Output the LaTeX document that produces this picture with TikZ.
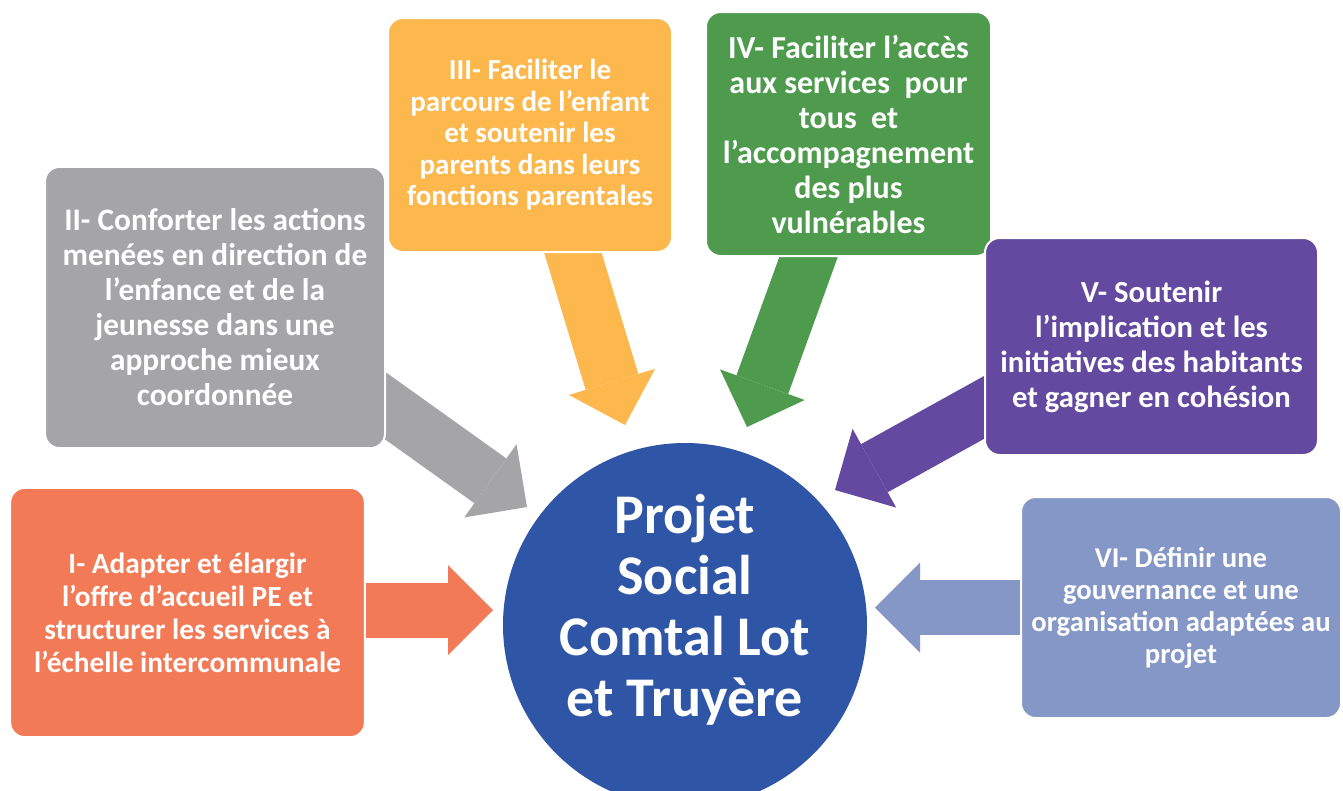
\documentclass[tikz,border=0pt]{standalone}
\usepackage{fontspec}
\setmainfont{Carlito}
\usetikzlibrary{arrows.meta,backgrounds,calc,positioning}

\definecolor{axeI}{HTML}{F37A56}
\definecolor{axeII}{HTML}{A5A5A7}
\definecolor{axeIII}{HTML}{FCB74D}
\definecolor{axeIV}{HTML}{4E9B4E}
\definecolor{axeV}{HTML}{6449A1}
\definecolor{axeVI}{HTML}{8497C7}
\definecolor{hub}{HTML}{2F55A7}

\tikzset{
  axe/.style={rectangle, rounded corners=11pt, draw=white, line width=1.5pt,
    text=white, align=center, inner sep=0pt},
  flow/.style={line width=41.25pt,
    -{Triangle[width=67.5pt,length=33.75pt,line width=0pt]}},
}

\begin{document}
\begin{tikzpicture}[x=0.75pt,y=-0.75pt]
\useasboundingbox (0,0) rectangle (1343,790);
\clip (0,0) rectangle (1343,790);

% Six axes
\node[axe, fill=axeI, minimum width=266pt, minimum height=187pt,
  font=\bfseries\fontsize{22}{24.75}\selectfont] (boxI) at (187.5,612.5)
  {I- Adapter et élargir\\ l’offre d’accueil PE et\\ structurer les services à\\ l’échelle intercommunale};
\node[axe, fill=axeII, minimum width=255pt, minimum height=211pt,
  font=\bfseries\fontsize{23.5}{26.25}\selectfont] (boxII) at (215,307.5)
  {II- Conforter les actions\\ menées en direction de\\ l’enfance et de la\\ jeunesse dans une\\ approche mieux\\ coordonnée};
\node[axe, fill=axeIII, minimum width=213pt, minimum height=175.5pt,
  font=\bfseries\fontsize{21.8}{23.6}\selectfont] (boxIII) at (530,135)
  {III- Faciliter le\\ parcours de l’enfant\\ et soutenir les\\ parents dans leurs\\ fonctions parentales};
\node[axe, fill=axeIV, minimum width=213.75pt, minimum height=183pt,
  font=\bfseries\fontsize{24}{26.25}\selectfont] (boxIV) at (848.5,134)
  {IV- Faciliter l’accès\\ aux services~ pour\\ tous~ et\\ l’accompagnement\\ des plus\\ vulnérables};
\node[axe, fill=axeV, minimum width=249.75pt, minimum height=162.75pt,
  font=\bfseries\fontsize{23}{26.25}\selectfont] (boxV) at (1151.5,346.5)
  {V- Soutenir\\ l’implication et les\\ initiatives des habitants\\ et gagner en cohésion};
\node[axe, fill=axeVI, minimum width=240pt, minimum height=165.75pt,
  font=\bfseries\fontsize{21.5}{24}\selectfont] (boxVI) at (1181,607.5)
  {VI- Définir une\\ gouvernance et une\\ organisation adaptées au\\ projet};

% Centre
\node[circle, fill=hub, minimum size=273pt, inner sep=0pt, text=white, align=center,
  font=\bfseries\fontsize{42}{45.75}\selectfont] (hub) at (685,625)
  {Projet\\ Social\\ Comtal Lot\\ et Truyère\\[-16pt]\mbox{}};

% Arrows towards the centre
\begin{pgfonlayer}{background}
\fill[white] (0,0) rectangle (1343,790);
\coordinate (tipI) at (493,610);
\coordinate (tipII) at (527,507);
\coordinate (tipIII) at (625,425);
\coordinate (tipIV) at (747,427);
\coordinate (tipV) at (835,490);
\coordinate (tipVI) at (875,607.5);
\draw[flow, axeI] ($(tipI)!1.3!(boxI.east |- tipI)$) -- (tipI);
\draw[flow, axeII] ($(tipII)!1.3!(boxII.-30)$) -- (tipII);
\draw[flow, axeIII] ($(tipIII)!1.3!(boxIII.-70)$) -- (tipIII);
\draw[flow, axeIV] ($(tipIV)!1.3!(boxIV.-108)$) -- (tipIV);
\draw[flow, axeV] ($(tipV)!1.3!(boxV.200)$) -- (tipV);
\draw[flow, axeVI] ($(tipVI)!1.3!(boxVI.west |- tipVI)$) -- (tipVI);
\end{pgfonlayer}
\end{tikzpicture}
\end{document}
